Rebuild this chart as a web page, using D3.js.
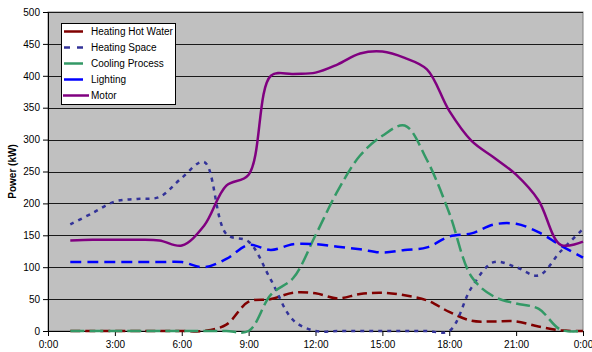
<!DOCTYPE html>
<html>
<head>
<meta charset="utf-8">
<script src="https://cdn.jsdelivr.net/npm/d3@7"></script>
<style>
  html, body { margin: 0; padding: 0; background: #ffffff; }
  svg { display: block; font-family: Arial, "Liberation Sans", sans-serif; }
</style>
</head>
<body>
<svg id="chart" width="592" height="352"></svg>
<script>
// ---- Data (hourly, 1:00 .. 24:00) ----
const hours = [1,2,3,4,5,6,7,8,9,10,11,12,13,14,15,16,17,18,19,20,21,22,23,24];
const heatingHotWater = [0,0,0,0,0,0,0,10,46,50,60,59,51,58,60,56,48,30,16,15,15,7,1,0];
const heatingSpace    = [167,185,203,207,210,240,265,152,140,80,17,0,0,0,0,0,0,0,68,108,100,87,125,160];
const coolingProcess  = [0,0,0,0,0,0,0,0,0,57,83,150,220,275,306,322,268,185,85,54,43,35,2,0];
const lighting        = [108,108,108,108,108,108,100,113,135,127,136,136,132,128,123,127,131,148,153,167,168,155,134,115];
const motor           = [142,143,143,143,142,134,165,228,245,400,403,405,418,435,438,428,410,345,298,272,245,205,135,140];

const seriesNames = ["Heating Hot Water","Heating Space","Cooling Process","Lighting","Motor"];
const xTickHours = [0,3,6,9,12,15,18,21,24];
const xTickLabels = ["0:00","3:00","6:00","9:00","12:00","15:00","18:00","21:00","0:00"];
const yTicks = [0,50,100,150,200,250,300,350,400,450,500];

// ---- Styles ----
const styles = {
  "Heating Hot Water": {color:"#800000", dash:"10,5", width:2.5},
  "Heating Space":     {color:"#333399", dash:"4,5",  width:2.5},
  "Cooling Process":   {color:"#339966", dash:"14,5", width:2.5},
  "Lighting":          {color:"#0000FF", dash:"11,6", width:2.5},
  "Motor":             {color:"#800080", dash:null,   width:2.5}
};
const dataBySeries = {
  "Heating Hot Water": heatingHotWater,
  "Heating Space": heatingSpace,
  "Cooling Process": coolingProcess,
  "Lighting": lighting,
  "Motor": motor
};

const svg = d3.select("#chart");
const pL = 48, pR = 583, pT = 12, pB = 331;

const x = d3.scaleLinear().domain([0,24]).range([pL,pR]);
const y = d3.scaleLinear().domain([0,500]).range([pB,pT]);

// plot background
svg.append("rect")
  .attr("x", pL).attr("y", pT)
  .attr("width", pR-pL).attr("height", pB-pT)
  .attr("fill", "#C0C0C0")
  .attr("stroke", "#808080").attr("stroke-width", 1);

// gridlines
svg.append("g").selectAll("line")
  .data(yTicks.filter(d => d > 0))
  .join("line")
  .attr("x1", pL).attr("x2", pR)
  .attr("y1", d => Math.round(y(d)) + 0.5)
  .attr("y2", d => Math.round(y(d)) + 0.5)
  .attr("stroke", "#1a1a1a").attr("stroke-width", 1);

// axes
const yAxis = d3.axisLeft(y).tickValues(yTicks).tickSize(5).tickPadding(3);
const gy = svg.append("g").attr("transform", `translate(${pL},0)`).call(yAxis);
gy.selectAll("text").attr("font-size", 10).attr("fill", "#000").attr("font-family", "Arial, 'Liberation Sans', sans-serif");
gy.selectAll("line, path").attr("stroke", "#000");

const xAxis = d3.axisBottom(x).tickValues(xTickHours)
  .tickFormat((d,i) => xTickLabels[i]).tickSize(5).tickPadding(5);
const gx = svg.append("g").attr("transform", `translate(0,${pB})`).call(xAxis);
gx.selectAll("text").attr("font-size", 10).attr("fill", "#000").attr("font-family", "Arial, 'Liberation Sans', sans-serif");
gx.selectAll("line, path").attr("stroke", "#000");

// y axis title
svg.append("text")
  .attr("transform", `translate(16,${(pT+pB)/2}) rotate(-90)`)
  .attr("text-anchor", "middle")
  .attr("font-size", 10).attr("font-weight", "bold")
  .text("Power (kW)");

// lines
const line = d3.line()
  .x((d,i) => x(hours[i]))
  .y(d => y(d))
  .curve(d3.curveCatmullRom.alpha(0.5));

seriesNames.forEach(name => {
  const s = styles[name];
  svg.append("path")
    .datum(dataBySeries[name])
    .attr("d", line)
    .attr("fill", "none")
    .attr("stroke", s.color)
    .attr("stroke-width", s.width)
    .attr("stroke-dasharray", s.dash)
    .attr("stroke-linejoin", "round");
});

// legend
const lg = svg.append("g");
lg.append("rect")
  .attr("x", 61.5).attr("y", 23.5).attr("width", 114).attr("height", 81)
  .attr("fill", "#fff").attr("stroke", "#000").attr("stroke-width", 1);
seriesNames.forEach((name, i) => {
  const s = styles[name];
  const yy = 31.5 + i*16;
  const isMotor = name === "Motor";
  lg.append("line")
    .attr("x1", isMotor ? 63 : 64).attr("x2", isMotor ? 89 : 83)
    .attr("y1", yy).attr("y2", yy)
    .attr("stroke", s.color).attr("stroke-width", 2.5)
    .attr("stroke-dasharray", name === "Heating Space" ? "6,7" : null);
  lg.append("text")
    .attr("x", 91).attr("y", yy + 3.5)
    .attr("font-size", 10).attr("fill", "#000")
    .text(name);
});
</script>
</body>
</html>
